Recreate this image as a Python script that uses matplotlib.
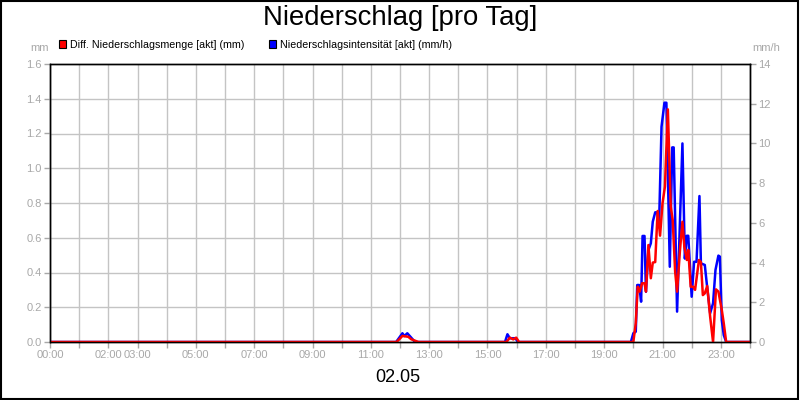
import matplotlib
matplotlib.use("Agg")
import matplotlib.pyplot as plt
from matplotlib.patches import Rectangle
import numpy as np

# Diff. Niederschlagsmenge [mm] (left axis)
menge_time = ["00:00", "11:53", "12:00", "12:05", "12:17", "12:23", "12:38",
              "15:39", "15:46", "15:53", "15:59", "16:05",
              "20:00", "20:05", "20:09", "20:13", "20:18", "20:23", "20:26",
              "20:31", "20:36", "20:40", "20:45", "20:50", "20:55", "21:00",
              "21:05", "21:11", "21:17", "21:21", "21:26", "21:30", "21:36",
              "21:41", "21:45", "21:50", "21:53", "21:58", "22:03", "22:07",
              "22:15", "22:19", "22:23", "22:27", "22:32", "22:38", "22:44",
              "22:50", "22:55", "23:02", "23:06", "23:11", "24:00"]
menge_val = [0.0, 0.0, 0.02, 0.035, 0.03, 0.016, 0.0,
             0.0, 0.025, 0.015, 0.025, 0.0,
             0.0, 0.108, 0.318, 0.29, 0.338, 0.338, 0.29,
             0.558, 0.367, 0.457, 0.46, 0.754, 0.612, 0.798,
             0.894, 1.339, 0.779, 0.702, 0.405, 0.29, 0.53,
             0.692, 0.548, 0.472, 0.53, 0.318, 0.318, 0.3,
             0.472, 0.46, 0.27, 0.28, 0.322, 0.146, 0.0,
             0.303, 0.29, 0.184, 0.108, 0.0, 0.0]

# Niederschlagsintensitaet [mm/h] (right axis)
int_time = ["00:00", "11:52", "12:05", "12:09", "12:15", "12:22", "12:28", "12:31",
            "15:36", "15:41", "15:46", "15:57", "16:03",
            "19:55", "20:00", "20:05", "20:08", "20:12", "20:16", "20:19",
            "20:23", "20:26", "20:31", "20:36", "20:40", "20:45", "20:49",
            "20:53", "20:58", "21:04", "21:08", "21:15", "21:20", "21:23",
            "21:30", "21:41", "21:46", "21:50", "21:53", "22:00", "22:05",
            "22:10", "22:16", "22:19", "22:27", "22:31", "22:38", "22:44",
            "22:49", "22:55", "22:58", "23:02", "23:06", "23:11", "24:00"]
int_val = [0.0, 0.0, 0.44, 0.3, 0.44, 0.25, 0.08, 0.0,
           0.0, 0.39, 0.19, 0.19, 0.0,
           0.0, 0.44, 0.52, 2.87, 2.87, 2.03, 5.34,
           5.34, 2.53, 4.63, 4.97, 6.06, 6.53, 6.53,
           5.98, 10.84, 12.05, 12.05, 3.79, 9.8, 9.8,
           1.53, 10.0, 4.2, 5.35, 5.35, 2.28, 4.04,
           4.04, 7.35, 3.96, 3.88, 2.96, 1.45, 1.95,
           3.63, 4.35, 4.3, 1.1, 0.35, 0.0, 0.0]

x_labels = {0: "00:00", 2: "02:00", 3: "03:00", 5: "05:00", 7: "07:00",
            9: "09:00", 11: "11:00", 13: "13:00", 15: "15:00", 17: "17:00",
            19: "19:00", 21: "21:00", 23: "23:00"}


def to_hours(times):
    out = []
    for t in times:
        h, m = t.split(":")
        out.append(int(h) + int(m) / 60.0)
    return np.array(out)


GRAY = "#a8a8a8"
GRID = "#c4c4c4"

plt.rcParams["font.family"] = ["Liberation Sans", "DejaVu Sans"]

fig = plt.figure(figsize=(8, 4), dpi=100)
ax2 = fig.add_axes([50 / 800, 58 / 400, 700 / 800, 278 / 400])
ax = ax2.twinx()
ax.yaxis.tick_left()
ax2.yaxis.tick_right()
ax.set_zorder(ax2.get_zorder() + 1)
ax.patch.set_visible(False)

ax2.plot(to_hours(int_time), int_val, color="#0000ff", lw=1.8)
ax.plot(to_hours(menge_time), menge_val, color="#ff0000", lw=1.8)

ax.set_xlim(0, 24)
ax.set_ylim(0, 1.6)
ax2.set_ylim(0, 14)

hours = np.arange(0, 25)
ax2.set_xticks(hours)
ax2.set_xticklabels([x_labels.get(h, "") for h in hours])
ax.set_yticks(np.arange(0, 1.61, 0.2))
ax.set_yticklabels(["%.1f" % v for v in np.arange(0, 1.61, 0.2)])
ax2.set_yticks(np.arange(0, 15, 2))
ax2.set_yticklabels([str(v) for v in range(0, 15, 2)])
ax2.set_yticks(np.linspace(0, 14, 9), minor=True)
ax2.tick_params(axis="y", which="minor", length=0)

ax2.grid(axis="x", color=GRID, lw=1)
ax2.grid(axis="y", which="minor", color=GRID, lw=1)
ax2.set_axisbelow(True)

for a in (ax, ax2):
    a.tick_params(axis="both", which="major", colors=GRAY, labelsize=8,
                  length=4, width=1, pad=2)
    for s in a.spines.values():
        s.set_color("black")
        s.set_linewidth(1)

fig.text(0.5, 1 - 18 / 400, "Niederschlag [pro Tag]", ha="center", va="center",
         fontsize=19.8)
fig.text(398 / 800, 1 - 378 / 400, "02.05", ha="center", va="center", fontsize=13)
fig.text(40 / 800, 1 - 48 / 400, "mm", ha="center", va="center", fontsize=8,
         color=GRAY)
fig.text(766 / 800, 1 - 48 / 400, "mm/h", ha="center", va="center", fontsize=8,
         color=GRAY)

# legend
for x0, col, label in [(58.5, "#ff0000", "Diff. Niederschlagsmenge [akt] (mm)"),
                       (268.5, "#0000ff", "Niederschlagsintensität [akt] (mm/h)")]:
    fig.patches.append(Rectangle((x0 / 800, 1 - 48 / 400), 7.5 / 800, 7.5 / 400,
                                 transform=fig.transFigure, facecolor=col,
                                 edgecolor="black", lw=0.8))
    fig.text((x0 + 11) / 800, 1 - 44.5 / 400, label, ha="left", va="center",
             fontsize=7.7)

fig.patches.append(Rectangle((0.001, 0.002), 0.997, 0.996, transform=fig.transFigure,
                             fill=False, edgecolor="black", lw=1.5))

fig.savefig("out.png", dpi=100)
